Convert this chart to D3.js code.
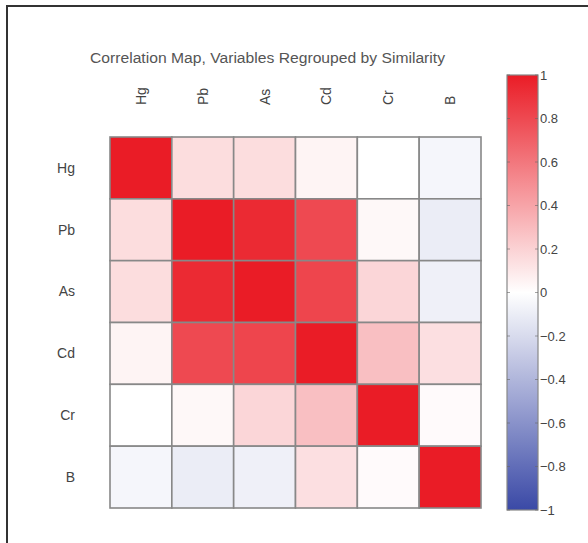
<!DOCTYPE html>
<html><head><meta charset="utf-8">
<script src="https://cdn.jsdelivr.net/npm/d3@7"></script>
<style>
html,body{margin:0;padding:0;background:#fff;}
svg{display:block;font-family:"Liberation Sans",Arial,sans-serif;}
</style></head>
<body>
<svg id="chart" width="588" height="543"></svg>
<script>
const variables = ["Hg","Pb","As","Cd","Cr","B"];
const rowHg = [1.00, 0.15, 0.15, 0.05, 0.00, -0.05];
const rowPb = [0.15, 1.00, 0.94, 0.80, 0.03, -0.10];
const rowAs = [0.15, 0.94, 1.00, 0.82, 0.18, -0.08];
const rowCd = [0.05, 0.80, 0.82, 1.00, 0.28, 0.14];
const rowCr = [0.00, 0.03, 0.18, 0.28, 1.00, 0.02];
const rowB  = [-0.05, -0.10, -0.08, 0.14, 0.02, 1.00];
const matrix = [rowHg,rowPb,rowAs,rowCd,rowCr,rowB];
const cbTicks = [-1,-0.8,-0.6,-0.4,-0.2,0,0.2,0.4,0.6,0.8,1];
const title = "Correlation Map, Variables Regrouped by Similarity";

const svg = d3.select("#chart");
// frame
svg.append("line").attr("x1",7).attr("x2",7).attr("y1",5).attr("y2",543).attr("stroke","#333").attr("stroke-width",2);
svg.append("line").attr("x1",6).attr("x2",588).attr("y1",6).attr("y2",6).attr("stroke","#333").attr("stroke-width",2);

const color = d3.scaleLinear().domain([-1,0,1]).range(["#3a49a6","#ffffff","#ea1c26"]).interpolate(d3.interpolateRgb);

const x = d3.scaleBand().domain(variables).range([110,481]);
const y = d3.scaleBand().domain(variables).range([137,508]);

const cells = [];
matrix.forEach((row,i)=>row.forEach((v,j)=>cells.push({r:variables[i],c:variables[j],v})));

svg.append("g").selectAll("rect").data(cells).join("rect")
  .attr("x",d=>x(d.c)).attr("y",d=>y(d.r))
  .attr("width",x.bandwidth()).attr("height",y.bandwidth())
  .attr("fill",d=>color(d.v))
  .attr("stroke","#888").attr("stroke-width",1.6);

// title
svg.append("text").attr("x",90).attr("y",63).attr("text-anchor","start")
  .attr("font-size",14).attr("textLength",355).attr("lengthAdjust","spacingAndGlyphs")
  .attr("fill","#555").text(title);

// column labels
svg.append("g").selectAll("text").data(variables).join("text")
  .attr("transform",d=>`translate(${x(d)+x.bandwidth()/2+5},105) rotate(-90)`)
  .attr("text-anchor","start").attr("font-size",14).attr("fill","#444").text(d=>d);

// row labels
svg.append("g").selectAll("text").data(variables).join("text")
  .attr("x",75).attr("y",d=>y(d)+y.bandwidth()/2).attr("dy","0.35em")
  .attr("text-anchor","end").attr("font-size",14).attr("fill","#444").text(d=>d);

// colorbar
const cbX=507, cbW=31, cbTop=75, cbBot=510;
const cy = d3.scaleLinear().domain([-1,1]).range([cbBot,cbTop]);
const defs = svg.append("defs");
const grad = defs.append("linearGradient").attr("id","cbgrad").attr("x1",0).attr("x2",0).attr("y1",1).attr("y2",0);
d3.range(-1,1.0001,0.1).forEach(v=>grad.append("stop").attr("offset",((v+1)/2*100)+"%").attr("stop-color",color(v)));
svg.append("rect").attr("x",cbX).attr("y",cbTop).attr("width",cbW).attr("height",cbBot-cbTop)
  .attr("fill","url(#cbgrad)").attr("stroke","#888").attr("stroke-width",1.2);
// inner ticks
const tg = svg.append("g");
cbTicks.forEach(t=>{
  tg.append("line").attr("x1",cbX).attr("x2",cbX+3).attr("y1",cy(t)).attr("y2",cy(t)).attr("stroke","#666").attr("stroke-opacity",0.6);
  tg.append("line").attr("x1",cbX+cbW-3).attr("x2",cbX+cbW).attr("y1",cy(t)).attr("y2",cy(t)).attr("stroke","#666").attr("stroke-opacity",0.6);
});
const axis = d3.axisRight(cy).tickValues(cbTicks).tickSize(0).tickPadding(2)
  .tickFormat(d=>d3.format("")(Math.round(d*10)/10).replace("-","\u2212"));
const ag = svg.append("g").attr("transform",`translate(${cbX+cbW},0)`).call(axis);
ag.select(".domain").remove();
ag.selectAll("text").attr("font-size",13).attr("fill","#444").attr("font-family","Liberation Sans, Arial, sans-serif");
</script>
</body></html>
